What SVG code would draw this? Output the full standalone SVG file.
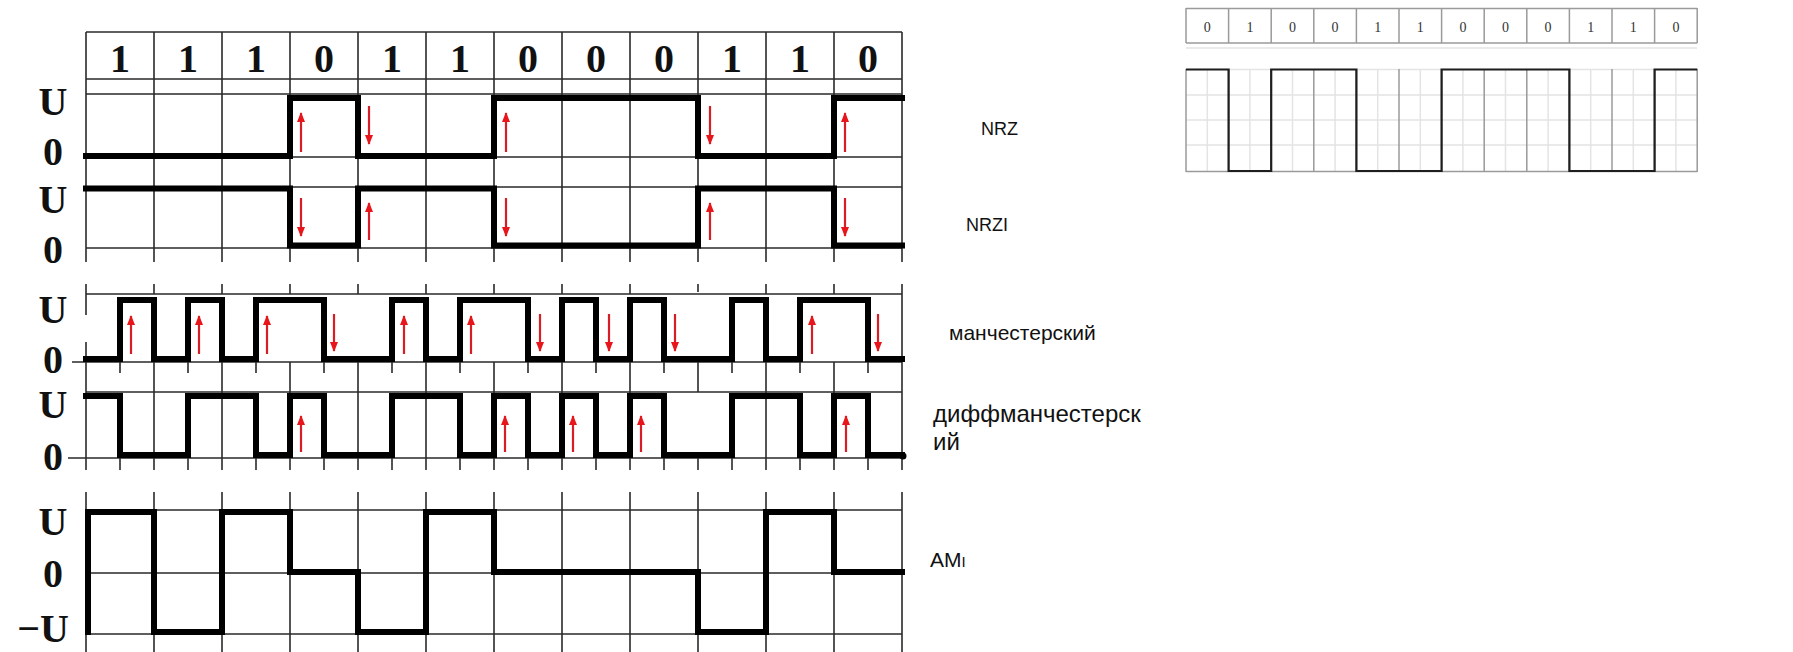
<svg xmlns="http://www.w3.org/2000/svg" width="1793" height="652" viewBox="0 0 1793 652">
<style>
.g{stroke:#2a2a2a;stroke-width:1.6;fill:none}
.s{stroke:#000;stroke-width:6;fill:none;stroke-linejoin:miter;stroke-linecap:square}
.a{stroke:#d81e24;stroke-width:2.2;fill:none;marker-end:url(#ah)}
.lb{font-family:"Liberation Serif",serif;font-weight:bold;font-size:40px;fill:#111;text-anchor:middle}
.hd{font-family:"Liberation Serif",serif;font-weight:bold;font-size:40px;fill:#111;text-anchor:middle}
.nm{font-family:"Liberation Sans",Arial,sans-serif;fill:#111}
.tg{stroke:#9a9a9a;stroke-width:1.5;fill:none}
.tl{stroke:#e4e4e4;stroke-width:1.5;fill:none}
.td{font-family:"Liberation Serif",serif;font-size:14px;fill:#333;text-anchor:middle}
</style>
<defs>
<marker id="ah" viewBox="0 0 10 8" refX="9" refY="4" markerWidth="11" markerHeight="8" orient="auto" markerUnits="userSpaceOnUse">
<path d="M0,0 L10,4 L0,8 z" fill="#e8161b"/>
</marker>
</defs>
<rect width="1793" height="652" fill="#fff"/>

<g id="nrz-panel">
<path class="g" d="M86,32 H902 M86,79 H902 M86,94 H902 M86,157 H902 M86,187 H902 M86,248 H902
M86,32 V262 M154,32 V262 M222,32 V262 M290,32 V262 M358,32 V262 M426,32 V262 M494,32 V262 M562,32 V262 M630,32 V262 M698,32 V262 M766,32 V262 M834,32 V262 M902,32 V262"/>
<text class="hd" x="120" y="72">1</text><text class="hd" x="188" y="72">1</text><text class="hd" x="256" y="72">1</text><text class="hd" x="324" y="72">0</text><text class="hd" x="392" y="72">1</text><text class="hd" x="460" y="72">1</text><text class="hd" x="528" y="72">0</text><text class="hd" x="596" y="72">0</text><text class="hd" x="664" y="72">0</text><text class="hd" x="732" y="72">1</text><text class="hd" x="800" y="72">1</text><text class="hd" x="868" y="72">0</text>
<text class="lb" x="53" y="115">U</text><text class="lb" x="53" y="165">0</text><text class="lb" x="53" y="213">U</text><text class="lb" x="53" y="263">0</text>
<path class="s" d="M86,156 H290 V98 H358 V156 H494 V98 H698 V156 H834 V98 H902"/>
<path class="s" d="M86,188.5 H290 V245.5 H358 V188.5 H494 V245.5 H698 V188.5 H834 V245.5 H902"/>
</g>

<g id="manchester-panel">
<path class="g" d="M86,294 H902 M72,362 H902 M86,392 H902 M68,458 H902
M86,284 V315 M86,342 V470 M902,284 V458
M154,284 V294 M222,284 V294 M290,284 V294 M358,284 V294 M426,284 V294 M494,284 V294 M562,284 V294 M630,284 V294 M698,284 V292 M766,284 V294 M834,284 V294
M154,362 V458 M222,362 V458 M290,362 V458 M358,362 V458 M426,362 V458 M494,362 V458 M562,362 V458 M630,362 V458 M698,362 V392 M766,362 V458 M834,362 V458
M120,362 V373 M188,362 V373 M256,362 V373 M324,362 V373 M392,362 V373 M460,362 V373 M528,362 V373 M596,362 V373 M664,362 V373 M732,362 V373 M800,362 V373 M868,362 V373
M86,458 V470 M120,458 V470 M154,458 V470 M188,458 V470 M222,458 V470 M256,458 V470 M290,458 V470 M324,458 V470 M358,458 V470 M392,458 V470 M426,458 V470 M460,458 V470 M494,458 V470 M528,458 V470 M562,458 V470 M596,458 V470 M630,458 V470 M664,458 V470 M698,458 V470 M732,458 V470 M766,458 V470 M800,458 V470 M834,458 V470 M868,458 V470 M902,458 V470"/>
<text class="lb" x="53" y="323">U</text><text class="lb" x="53" y="373">0</text><text class="lb" x="53" y="418">U</text><text class="lb" x="53" y="470">0</text>
<path class="s" d="M86,359 H120 V300 H154 V359 H188 V300 H222 V359 H256 V300 H324 V359 H392 V300 H426 V359 H460 V300 H528 V359 H562 V300 H596 V359 H630 V300 H664 V359 H732 V300 H766 V359 H800 V300 H868 V359 H902"/>
<path class="s" d="M86,396 H120 V455 H188 V396 H256 V455 H290 V396 H324 V455 H392 V396 H460 V455 H494 V396 H528 V455 H562 V396 H596 V455 H630 V396 H664 V455 H732 V396 H800 V455 H834 V396 H868 V455 H902"/>
<circle cx="903" cy="456" r="3.5" fill="#000"/>
</g>

<g id="ami-panel">
<path class="g" d="M86,510 H902 M86,573 H902 M86,634 H902
M86,492 V652 M154,492 V652 M222,492 V652 M290,492 V652 M358,492 V652 M426,492 V652 M494,492 V652 M562,492 V652 M630,492 V652 M698,492 V652 M766,492 V652 M834,492 V652 M902,492 V652"/>
<text class="lb" x="53" y="535">U</text><text class="lb" x="53" y="587">0</text><text class="lb" x="69" y="642" style="text-anchor:end">−U</text>
<path class="s" d="M88,632 V512 H154 V632 H222 V512 H290 V572 H358 V632 H426 V512 H494 V572 H698 V632 H766 V512 H834 V572 H902"/>
</g>

<g id="arrows">
<path class="a" d="M301,152 V113"/><path class="a" d="M369,106 V144"/><path class="a" d="M506,152 V113"/><path class="a" d="M710,106 V144"/><path class="a" d="M845,152 V113"/>
<path class="a" d="M301,198 V236"/><path class="a" d="M369,240 V203"/><path class="a" d="M506,198 V236"/><path class="a" d="M710,240 V203"/><path class="a" d="M845,198 V236"/>
<path class="a" d="M131,354 V316"/><path class="a" d="M199,354 V316"/><path class="a" d="M267,354 V316"/><path class="a" d="M334,314 V351"/><path class="a" d="M404,354 V316"/><path class="a" d="M471,354 V316"/><path class="a" d="M540,314 V351"/><path class="a" d="M609,314 V351"/><path class="a" d="M675,314 V351"/><path class="a" d="M812,354 V316"/><path class="a" d="M878,314 V351"/>
<path class="a" d="M301,452 V416"/><path class="a" d="M505,452 V416"/><path class="a" d="M573,452 V416"/><path class="a" d="M641,452 V416"/><path class="a" d="M846,452 V416"/>
</g>

<g id="labels">
<text class="nm" x="981" y="135" font-size="18">NRZ</text>
<text class="nm" x="966" y="231" font-size="18">NRZI</text>
<text class="nm" x="949" y="340" font-size="21">манчестерский</text>
<text class="nm" x="933" y="422" font-size="24">диффманчестерск</text>
<text class="nm" x="933" y="450" font-size="24">ий</text>
<text class="nm" x="930" y="567" font-size="21">AM<tspan font-size="15">I</tspan></text>
</g>

<g id="nrz-table">
<path class="tl" d="M1186,48 H1697 M1186,69.5 H1697 M1186,95 H1697 M1186,120 H1697 M1186,145 H1697
M1207.3,69 V172 M1249.9,69 V172 M1292.5,69 V172 M1335.1,69 V172 M1377.7,69 V172 M1420.3,69 V172 M1462.9,69 V172 M1505.5,69 V172 M1548.1,69 V172 M1590.7,69 V172 M1633.3,69 V172 M1675.9,69 V172"/>
<path class="tg" d="M1186,8.5 H1697.2 M1186,43 H1697.2 M1186,171.5 H1697.2
M1186,8 V43 M1228.6,8 V43 M1271.2,8 V43 M1313.8,8 V43 M1356.4,8 V43 M1399,8 V43 M1441.6,8 V43 M1484.2,8 V43 M1526.8,8 V43 M1569.4,8 V43 M1612,8 V43 M1654.6,8 V43 M1697.2,8 V43
M1186,69 V172 M1228.6,69 V172 M1271.2,69 V172 M1313.8,69 V172 M1356.4,69 V172 M1399,69 V172 M1441.6,69 V172 M1484.2,69 V172 M1526.8,69 V172 M1569.4,69 V172 M1612,69 V172 M1654.6,69 V172 M1697.2,69 V172"/>
<text class="td" x="1207.3" y="32">0</text><text class="td" x="1249.9" y="32">1</text><text class="td" x="1292.5" y="32">0</text><text class="td" x="1335.1" y="32">0</text><text class="td" x="1377.7" y="32">1</text><text class="td" x="1420.3" y="32">1</text><text class="td" x="1462.9" y="32">0</text><text class="td" x="1505.5" y="32">0</text><text class="td" x="1548.1" y="32">0</text><text class="td" x="1590.7" y="32">1</text><text class="td" x="1633.3" y="32">1</text><text class="td" x="1675.9" y="32">0</text>
<path d="M1186,69.5 H1228.6 V171 H1271.2 V69.5 H1356.4 V171 H1441.6 V69.5 H1569.4 V171 H1654.6 V69.5 H1697.2" stroke="#1e1e1e" stroke-width="2.2" fill="none"/>
</g>
</svg>
